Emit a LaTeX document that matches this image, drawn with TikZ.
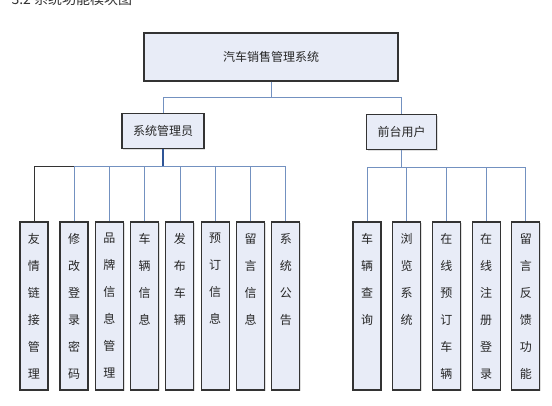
\documentclass[tikz,border=0pt]{standalone}
\usepackage{fontspec}
\setmainfont{Noto Sans CJK SC}
\usetikzlibrary{positioning, shadows}
\definecolor{modulefill}{HTML}{E8ECF7}
\definecolor{moduleborder}{HTML}{333333}
\definecolor{busline}{HTML}{7391C0}
\definecolor{trunkline}{HTML}{2F5597}
\definecolor{captiontext}{HTML}{333333}

% vertical label: one character per line, set from the top of the box
\newcommand{\vlabel}[1]{\parbox[c][146pt][t]{14pt}{\centering\fontsize{12}{27}\selectfont #1}}

\begin{document}
\begin{tikzpicture}[
        x=1pt, y=-1pt,
        box/.style={
            draw=moduleborder,
            line width=1.1pt,
            fill=modulefill,
            text=black!85,
            drop shadow={shadow xshift=1.2pt, shadow yshift=-1.2pt, opacity=0.25}
        },
        rootbox/.style={
            box,
            minimum width=254pt,
            minimum height=48pt,
            font=\fontsize{12}{14}\selectfont
        },
        rolebox/.style={
            box,
            inner xsep=11pt,
            minimum height=35pt,
            font=\fontsize{12}{14}\selectfont
        },
        module/.style={
            box,
            inner xsep=0pt,
            inner ysep=11pt,
            minimum width=28pt,
            minimum height=168pt
        },
        busline/.style={
            draw=busline,
            line width=0.8pt
        },
        trunk/.style={
            draw=trunkline,
            line width=1.4pt
        }
    ]

        \useasboundingbox (0,0) rectangle (552,405);

        % ---------------------------------------------------------------------
        % Caption (cut off at the top edge)
        % ---------------------------------------------------------------------

        \node[
            anchor=west,
            text=captiontext,
            font=\fontsize{14}{16}\selectfont
        ] (caption) at (8,-1) {3.2 系统功能模块图};

        % ---------------------------------------------------------------------
        % Root and roles
        % ---------------------------------------------------------------------

        \node[rootbox] (system) at (271,57) {汽车销售管理系统};

        \node[rolebox] (admin) at (163,131) {系统管理员};

        \node[rolebox] (frontuser) at (401.5,132) {前台用户};

        \draw[busline]
            (system.south) -- ++(0,16) coordinate (systembus);

        \draw[busline]
            (systembus) -| (admin.north);

        \draw[busline]
            (systembus) -| (frontuser.north);

        % ---------------------------------------------------------------------
        % Administrator modules
        % ---------------------------------------------------------------------

        \node[module] (friendlink) at (34,306) {\vlabel{友\\情\\链\\接\\管\\理}};

        \node[
            module,
            right=10.9pt of friendlink
        ] (password) {\vlabel{修\\改\\登\\录\\密\\码}};

        \node[
            module,
            right=6.2pt of password
        ] (brand) {\vlabel{品\\牌\\信\\息\\管\\理}};

        \node[
            module,
            right=6.2pt of brand
        ] (carinfo) {\vlabel{车\\辆\\信\\息}};

        \node[
            module,
            right=6.2pt of carinfo
        ] (publish) {\vlabel{发\\布\\车\\辆}};

        \node[
            module,
            right=6.2pt of publish
        ] (booking) {\vlabel{预\\订\\信\\息}};

        \node[
            module,
            right=6.2pt of booking
        ] (message) {\vlabel{留\\言\\信\\息}};

        \node[
            module,
            right=6.2pt of message
        ] (notice) {\vlabel{系\\统\\公\\告}};

        \draw[trunk]
            (admin.south) -- ++(0,17) coordinate (adminbus);

        % the first branch is drawn in black in the original
        \draw[busline, draw=black!80]
            (adminbus) -| (friendlink.north);

        \draw[busline] (adminbus) -| (password.north);
        \draw[busline] (adminbus) -| (brand.north);
        \draw[busline] (adminbus) -| (carinfo.north);
        \draw[busline] (adminbus) -| (publish.north);
        \draw[busline] (adminbus) -| (booking.north);
        \draw[busline] (adminbus) -| (message.north);
        \draw[busline] (adminbus) -| (notice.north);

        % ---------------------------------------------------------------------
        % Front-end user modules
        % ---------------------------------------------------------------------

        \node[module] (carquery) at (367,306) {\vlabel{车\\辆\\查\\询}};

        \node[
            module,
            right=10.6pt of carquery
        ] (browse) {\vlabel{浏\\览\\系\\统}};

        \node[
            module,
            right=10.6pt of browse
        ] (onlinebook) {\vlabel{在\\线\\预\\订\\车\\辆}};

        \node[
            module,
            right=10.6pt of onlinebook
        ] (register) {\vlabel{在\\线\\注\\册\\登\\录}};

        \node[
            module,
            right=10.6pt of register
        ] (feedback) {\vlabel{留\\言\\反\\馈\\功\\能}};

        \draw[busline]
            (frontuser.south) -- ++(0,17) coordinate (frontbus);

        \draw[busline] (frontbus) -| (carquery.north);
        \draw[busline] (frontbus) -| (browse.north);
        \draw[busline] (frontbus) -| (onlinebook.north);
        \draw[busline] (frontbus) -| (register.north);
        \draw[busline] (frontbus) -| (feedback.north);

    \end{tikzpicture}
\end{document}
